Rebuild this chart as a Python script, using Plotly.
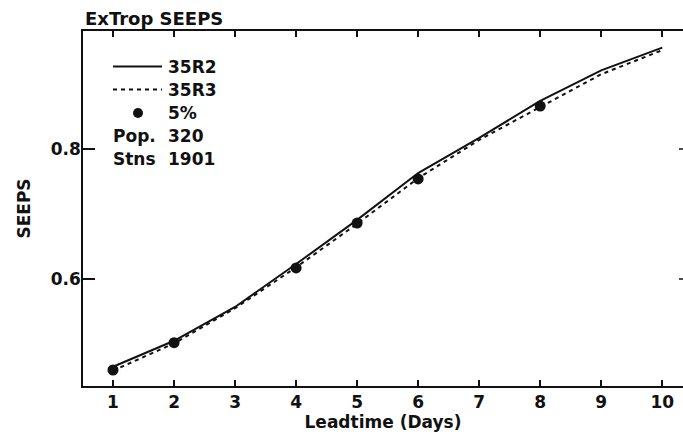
import plotly.graph_objects as go

# Data
leadtime = [1, 2, 3, 4, 5, 6, 7, 8, 9, 10]
seeps_35r2 = [0.465, 0.505, 0.557, 0.623, 0.691, 0.763, 0.817, 0.874, 0.921, 0.956]
seeps_35r3 = [0.459, 0.501, 0.555, 0.618, 0.685, 0.755, 0.814, 0.865, 0.915, 0.952]
sig_days = [1, 2, 4, 5, 6, 8]
sig_values = [0.460, 0.502, 0.617, 0.686, 0.754, 0.866]
x_ticks = [1, 2, 3, 4, 5, 6, 7, 8, 9, 10]
y_ticks = [0.6, 0.8]
y_tick_labels = ["0.6", "0.8"]

FONT = "DejaVu Sans"
INK = "#111111"
FS = 17

W, H = 683, 434
L, R, T, B = 83, 0, 31, 48
PW, PH = W - L - R, H - T - B


def px(xp):
    return (xp - L) / PW


def py(yp):
    return (H - B - yp) / PH


def bold(size=FS):
    return dict(family=FONT, size=size, color=INK, weight="bold")


fig = go.Figure()
fig.add_trace(go.Scatter(x=leadtime, y=seeps_35r2, mode="lines",
                         line=dict(color=INK, width=2), showlegend=False))
fig.add_trace(go.Scatter(x=leadtime, y=seeps_35r3, mode="lines",
                         line=dict(color=INK, width=2, dash="4px,4px"), showlegend=False))
fig.add_trace(go.Scatter(x=sig_days, y=sig_values, mode="markers",
                         marker=dict(color=INK, size=11), showlegend=False))

shapes = []
annotations = []

# Custom legend block
legend_rows = [
    ("solid", "35R2", 66.5),
    ("dash", "35R3", 89.5),
    ("dot", "5%", 113),
]
for kind, label, yp in legend_rows:
    if kind == "dot":
        shapes.append(dict(type="circle", xref="paper", yref="paper",
                           x0=px(133), x1=px(143), y0=py(yp + 5), y1=py(yp - 5),
                           fillcolor=INK, line=dict(color=INK, width=0)))
    else:
        shapes.append(dict(type="line", xref="paper", yref="paper",
                           x0=px(113), x1=px(162), y0=py(yp), y1=py(yp),
                           line=dict(color=INK, width=2,
                                     dash="solid" if kind == "solid" else "4px,4px")))
    annotations.append(dict(text=label, xref="paper", yref="paper", x=px(166), y=py(yp),
                            xanchor="left", yanchor="middle", showarrow=False,
                            font=bold()))

for left, right, yp in [("Pop.", "320", 136), ("Stns", "1901", 158.5)]:
    annotations.append(dict(text=left, xref="paper", yref="paper", x=px(111), y=py(yp),
                            xanchor="left", yanchor="middle", showarrow=False,
                            font=bold()))
    annotations.append(dict(text=right, xref="paper", yref="paper", x=px(166), y=py(yp),
                            xanchor="left", yanchor="middle", showarrow=False,
                            font=bold()))

# Title
annotations.append(dict(text="ExTrop SEEPS", xref="paper", yref="paper", x=0, y=py(18),
                        xanchor="left", yanchor="middle", showarrow=False,
                        font=bold(18)))

# Right-hand tick stubs (the right frame is cut off at the image edge)
for yv in y_ticks:
    shapes.append(dict(type="line", xref="paper", yref="y", x0=px(679), x1=1.0,
                       y0=yv, y1=yv, line=dict(color=INK, width=1.5)))

fig.update_layout(
    width=W, height=H,
    margin=dict(l=L, r=R, t=T, b=B),
    paper_bgcolor="white", plot_bgcolor="white",
    font=dict(family=FONT, size=FS, color=INK),
    shapes=shapes, annotations=annotations,
    showlegend=False,
)
fig.update_xaxes(
    range=[0.508, 10.34], tickvals=x_ticks, ticks="inside", ticklen=6, tickwidth=1.5,
    tickcolor=INK, showline=True, linecolor=INK, linewidth=1.5, mirror="ticks",
    showgrid=False, zeroline=False,
    tickfont=bold(),
    title=dict(text="Leadtime (Days)", standoff=4, font=bold()),
)
fig.update_yaxes(
    range=[0.4354, 0.9815], tickvals=y_ticks, ticktext=y_tick_labels,
    ticks="inside", ticklen=12, tickwidth=1.5, tickcolor=INK,
    showline=True, linecolor=INK, linewidth=1.5, mirror=False,
    showgrid=False, zeroline=False, ticklabelstandoff=-3,
    tickfont=bold(),
    title=dict(text="SEEPS", standoff=16, font=bold()),
)

fig.write_html("out.html")
